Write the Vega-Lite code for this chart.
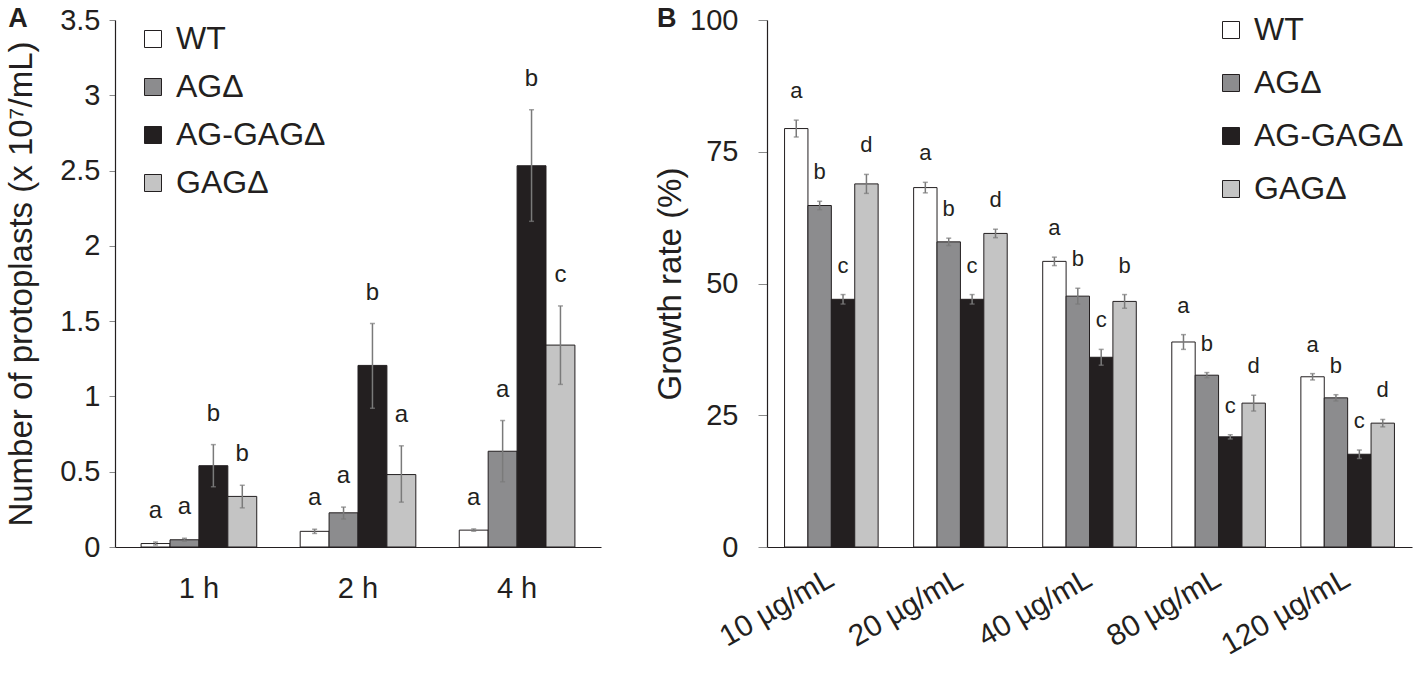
{
  "$schema": "https://vega.github.io/schema/vega-lite/v6.json",
  "padding": {"left": 5, "top": 5, "right": 5, "bottom": 5},
  "config": {
    "font": "Liberation Sans",
    "view": {"stroke": null},
    "axis": {"grid": false, "domainColor": "#231f20", "domainWidth": 1.2, "tickColor": "#8a8a8a", "labelColor": "#231f20", "titleColor": "#231f20", "labelFont": "Liberation Sans", "titleFont": "Liberation Sans", "titleFontWeight": "normal"},
    "legend": {"symbolType": "square", "symbolSize": 289, "symbolStrokeColor": "#231f20", "symbolStrokeWidth": 1, "labelFontSize": 32, "labelColor": "#231f20", "labelOffset": 7, "padding": 0, "labelFont": "Liberation Sans"},
    "title": {"font": "Liberation Sans", "color": "#231f20"}
  },
  "datasets": {
    "protoplasts": [
      {"time": "1 h", "strain": "WT", "mean": 0.023, "lo": 0.013, "hi": 0.033, "letter": "a"},
      {"time": "1 h", "strain": "AGΔ", "mean": 0.048, "lo": 0.038, "hi": 0.058, "letter": "a"},
      {"time": "1 h", "strain": "AG-GAGΔ", "mean": 0.54, "lo": 0.40, "hi": 0.68, "letter": "b"},
      {"time": "1 h", "strain": "GAGΔ", "mean": 0.336, "lo": 0.26, "hi": 0.41, "letter": "b"},
      {"time": "2 h", "strain": "WT", "mean": 0.104, "lo": 0.09, "hi": 0.118, "letter": "a"},
      {"time": "2 h", "strain": "AGΔ", "mean": 0.227, "lo": 0.186, "hi": 0.265, "letter": "a"},
      {"time": "2 h", "strain": "AG-GAGΔ", "mean": 1.206, "lo": 0.921, "hi": 1.484, "letter": "b"},
      {"time": "2 h", "strain": "GAGΔ", "mean": 0.481, "lo": 0.298, "hi": 0.672, "letter": "a"},
      {"time": "4 h", "strain": "WT", "mean": 0.112, "lo": 0.105, "hi": 0.12, "letter": "a"},
      {"time": "4 h", "strain": "AGΔ", "mean": 0.636, "lo": 0.433, "hi": 0.84, "letter": "a"},
      {"time": "4 h", "strain": "AG-GAGΔ", "mean": 2.532, "lo": 2.163, "hi": 2.904, "letter": "b"},
      {"time": "4 h", "strain": "GAGΔ", "mean": 1.341, "lo": 1.08, "hi": 1.601, "letter": "c"}
    ],
    "growth": [
      {"dose": "10 µg/mL", "strain": "WT", "mean": 79.4, "lo": 77.8, "hi": 81.0, "letter": "a"},
      {"dose": "10 µg/mL", "strain": "AGΔ", "mean": 64.8, "lo": 64.0, "hi": 65.6, "letter": "b"},
      {"dose": "10 µg/mL", "strain": "AG-GAGΔ", "mean": 47.0, "lo": 46.1, "hi": 47.9, "letter": "c"},
      {"dose": "10 µg/mL", "strain": "GAGΔ", "mean": 68.9, "lo": 67.1, "hi": 70.7, "letter": "d"},
      {"dose": "20 µg/mL", "strain": "WT", "mean": 68.2, "lo": 67.2, "hi": 69.2, "letter": "a"},
      {"dose": "20 µg/mL", "strain": "AGΔ", "mean": 57.9, "lo": 57.2, "hi": 58.6, "letter": "b"},
      {"dose": "20 µg/mL", "strain": "AG-GAGΔ", "mean": 47.0, "lo": 46.1, "hi": 47.9, "letter": "c"},
      {"dose": "20 µg/mL", "strain": "GAGΔ", "mean": 59.5, "lo": 58.7, "hi": 60.3, "letter": "d"},
      {"dose": "40 µg/mL", "strain": "WT", "mean": 54.2, "lo": 53.4, "hi": 55.0, "letter": "a"},
      {"dose": "40 µg/mL", "strain": "AGΔ", "mean": 47.6, "lo": 46.1, "hi": 49.1, "letter": "b"},
      {"dose": "40 µg/mL", "strain": "AG-GAGΔ", "mean": 36.0, "lo": 34.5, "hi": 37.5, "letter": "c"},
      {"dose": "40 µg/mL", "strain": "GAGΔ", "mean": 46.6, "lo": 45.3, "hi": 47.9, "letter": "b"},
      {"dose": "80 µg/mL", "strain": "WT", "mean": 38.9, "lo": 37.5, "hi": 40.3, "letter": "a"},
      {"dose": "80 µg/mL", "strain": "AGΔ", "mean": 32.6, "lo": 32.1, "hi": 33.1, "letter": "b"},
      {"dose": "80 µg/mL", "strain": "AG-GAGΔ", "mean": 20.9, "lo": 20.5, "hi": 21.3, "letter": "c"},
      {"dose": "80 µg/mL", "strain": "GAGΔ", "mean": 27.3, "lo": 25.8, "hi": 28.8, "letter": "d"},
      {"dose": "120 µg/mL", "strain": "WT", "mean": 32.3, "lo": 31.7, "hi": 32.9, "letter": "a"},
      {"dose": "120 µg/mL", "strain": "AGΔ", "mean": 28.3, "lo": 27.7, "hi": 28.9, "letter": "b"},
      {"dose": "120 µg/mL", "strain": "AG-GAGΔ", "mean": 17.6, "lo": 16.8, "hi": 18.4, "letter": "c"},
      {"dose": "120 µg/mL", "strain": "GAGΔ", "mean": 23.5, "lo": 22.8, "hi": 24.2, "letter": "d"}
    ]
  },
  "spacing": 53,
  "resolve": {"scale": {"fill": "independent", "xOffset": "independent"}, "legend": {"fill": "independent"}},
  "hconcat": [
    {
      "width": 486,
      "height": 527,
      "title": {"text": "A", "orient": "left", "anchor": "end", "frame": "bounds", "angle": 0, "align": "left", "baseline": "top", "offset": -22, "fontSize": 27, "fontWeight": "bold"},
      "data": {"name": "protoplasts"},
      "encoding": {
        "x": {"field": "time", "type": "nominal", "sort": ["1 h", "2 h", "4 h"],
              "scale": {"paddingInner": 0.273, "paddingOuter": 0.164},
              "axis": {"title": null, "labelAngle": 0, "labelFontSize": 29, "ticks": false, "labelPadding": 27}},
        "xOffset": {"field": "strain", "type": "nominal", "sort": ["WT", "AGΔ", "AG-GAGΔ", "GAGΔ"], "scale": {"paddingInner": 0, "paddingOuter": 0}}
      },
      "layer": [
        {
          "mark": {"type": "bar", "stroke": "#231f20", "strokeWidth": 1},
          "encoding": {
            "y": {"field": "mean", "type": "quantitative",
                  "scale": {"domain": [0, 3.5], "nice": false},
                  "axis": {"values": [0, 0.5, 1, 1.5, 2, 2.5, 3, 3.5], "format": "~g", "title": "Number of protoplasts (x 10⁷/mL)", "titleFontSize": 33, "labelFontSize": 29, "tickSize": 6, "labelPadding": 9, "titlePadding": 21}},
            "fill": {"field": "strain", "type": "nominal", "sort": ["WT", "AGΔ", "AG-GAGΔ", "GAGΔ"],
                     "scale": {"domain": ["WT", "AGΔ", "AG-GAGΔ", "GAGΔ"], "range": ["#ffffff", "#8c8c8e", "#231f20", "#c4c4c4"]},
                     "legend": {"title": null, "orient": "none", "legendX": 22, "legendY": 3, "rowPadding": 16}}
          }
        },
        {
          "mark": {"type": "rule", "color": "#7a7a7a", "strokeWidth": 1.5},
          "encoding": {"y": {"field": "lo", "type": "quantitative"}, "y2": {"field": "hi"}}
        },
        {
          "mark": {"type": "tick", "color": "#7a7a7a", "size": 5, "thickness": 1.5},
          "encoding": {"y": {"field": "lo", "type": "quantitative"}}
        },
        {
          "mark": {"type": "tick", "color": "#7a7a7a", "size": 5, "thickness": 1.5},
          "encoding": {"y": {"field": "hi", "type": "quantitative"}}
        },
        {
          "mark": {"type": "text", "fontSize": 24, "color": "#231f20", "baseline": "middle", "dy": -31},
          "encoding": {"y": {"field": "hi", "type": "quantitative"}, "text": {"field": "letter"}}
        }
      ]
    },
    {
      "width": 645,
      "height": 527,
      "title": {"text": "B", "orient": "left", "anchor": "end", "frame": "bounds", "angle": 0, "align": "left", "baseline": "top", "offset": -22, "fontSize": 27, "fontWeight": "bold"},
      "data": {"name": "growth"},
      "encoding": {
        "x": {"field": "dose", "type": "nominal", "sort": ["10 µg/mL", "20 µg/mL", "40 µg/mL", "80 µg/mL", "120 µg/mL"],
              "scale": {"paddingInner": 0.275, "paddingOuter": 0.136},
              "axis": {"title": null, "labelAngle": -30, "labelAlign": "right", "labelBaseline": "middle", "labelFontSize": 30, "ticks": false, "labelPadding": 29}},
        "xOffset": {"field": "strain", "type": "nominal", "sort": ["WT", "AGΔ", "AG-GAGΔ", "GAGΔ"], "scale": {"paddingInner": 0, "paddingOuter": 0}}
      },
      "layer": [
        {
          "mark": {"type": "bar", "stroke": "#231f20", "strokeWidth": 1},
          "encoding": {
            "y": {"field": "mean", "type": "quantitative",
                  "scale": {"domain": [0, 100], "nice": false},
                  "axis": {"values": [0, 25, 50, 75, 100], "title": "Growth rate (%)", "titleFontSize": 33, "labelFontSize": 29, "tickSize": 9, "labelPadding": 20, "titlePadding": 2}},
            "fill": {"field": "strain", "type": "nominal", "sort": ["WT", "AGΔ", "AG-GAGΔ", "GAGΔ"],
                     "scale": {"domain": ["WT", "AGΔ", "AG-GAGΔ", "GAGΔ"], "range": ["#ffffff", "#8c8c8e", "#231f20", "#c4c4c4"]},
                     "legend": {"title": null, "orient": "none", "legendX": 448, "legendY": -6, "rowPadding": 21}}
          }
        },
        {
          "mark": {"type": "rule", "color": "#7a7a7a", "strokeWidth": 1.5},
          "encoding": {"y": {"field": "lo", "type": "quantitative"}, "y2": {"field": "hi"}}
        },
        {
          "mark": {"type": "tick", "color": "#7a7a7a", "size": 5, "thickness": 1.5},
          "encoding": {"y": {"field": "lo", "type": "quantitative"}}
        },
        {
          "mark": {"type": "tick", "color": "#7a7a7a", "size": 5, "thickness": 1.5},
          "encoding": {"y": {"field": "hi", "type": "quantitative"}}
        },
        {
          "mark": {"type": "text", "fontSize": 22, "color": "#231f20", "baseline": "middle", "dy": -29},
          "encoding": {"y": {"field": "hi", "type": "quantitative"}, "text": {"field": "letter"}}
        }
      ]
    }
  ]
}
